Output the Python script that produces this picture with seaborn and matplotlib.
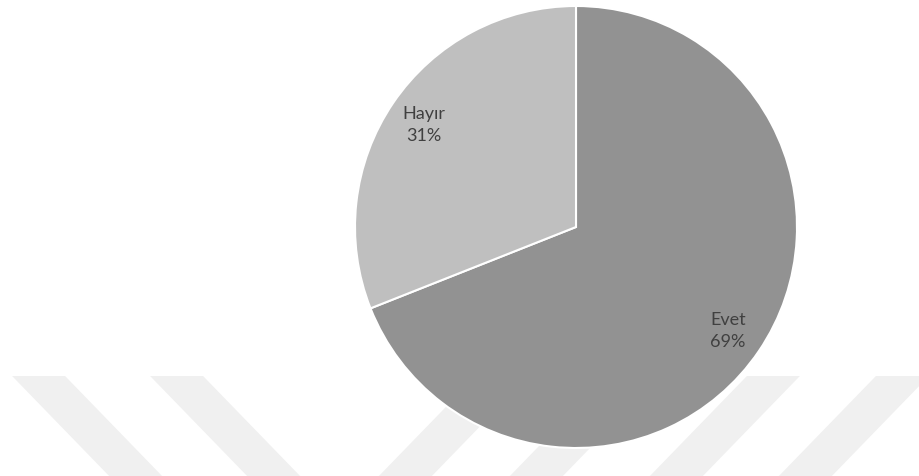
import matplotlib
matplotlib.use("Agg")
import matplotlib.pyplot as plt
import seaborn as sns
from matplotlib.patches import Polygon

# data
labels = ["Evet", "Hayır"]
values = [69, 31]
colors = ["#929292", "#bfbfbf"]

# faint watermark stripes at the bottom (x of bottom-left corner in px, lean)
stripe_x = [112, 250, 376, 507, 647, 776]
stripe_dir = [-1, -1, 1, 1, 1, 1]

W, H = 920, 477

sns.set_theme(style="white")
plt.rcParams["font.family"] = ["Lato", "DejaVu Sans"]

fig = plt.figure(figsize=(W / 100, H / 100), dpi=100)


def px(x, y):
    # pixel (from top-left) -> figure fraction
    return (x / W, 1 - y / H)


# watermark behind the pie
for bx, d in zip(stripe_x, stripe_dir):
    top_y, bot_y, shift, width = 377, 480, 97, 53
    tx = bx + d * shift * (bot_y - top_y) / 100
    pts = [px(bx, bot_y), px(bx + width, bot_y),
           px(tx + width, top_y), px(tx, top_y)]
    fig.patches.append(Polygon(pts, closed=True, transform=fig.transFigure,
                               facecolor="#f0f0f0", edgecolor="none", zorder=0))

# square axes for the pie: centre (576, 228), radius 221 px
cx, cy, r = 576, 228, 221
left, top = px(cx - r, cy - r)
ax = fig.add_axes([left, 1 - (cy + r) / H, 2 * r / W, 2 * r / H])
ax.set_zorder(1)
ax.patch.set_alpha(0)

wedges, texts = ax.pie(
    values,
    labels=[f"{l}\n{v}%" for l, v in zip(labels, values)],
    colors=colors,
    startangle=90,
    counterclock=False,
    radius=1,
    labeldistance=0.83,
    wedgeprops=dict(edgecolor="white", linewidth=1.5),
    textprops=dict(color="#404040", fontsize=13, ha="center", va="center",
                   linespacing=1.5),
)
ax.set_xlim(-1, 1)
ax.set_ylim(-1, 1)
ax.set_aspect("equal")
ax.axis("off")

fig.savefig("out.png", dpi=100)
